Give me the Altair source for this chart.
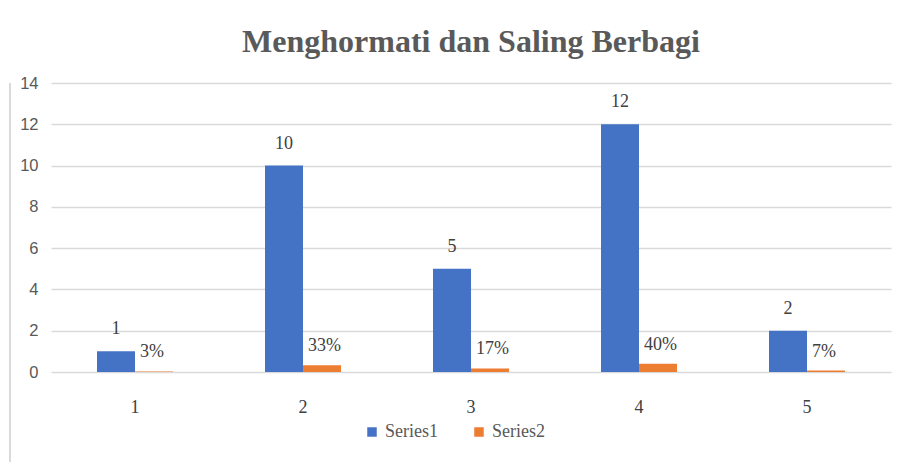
import altair as alt
import pandas as pd

categories = ["1", "2", "3", "4", "5"]
series1 = [1, 10, 5, 12, 2]
series2 = [0.03, 0.33, 0.17, 0.40, 0.07]
series2_labels = ["3%", "33%", "17%", "40%", "7%"]
series_names = ["Series1", "Series2"]

rows = []
for c, v, in zip(categories, series1):
    rows.append({"cat": c, "series": "Series1", "value": v, "label": str(v)})
for c, v, l in zip(categories, series2, series2_labels):
    rows.append({"cat": c, "series": "Series2", "value": v, "label": l})
df = pd.DataFrame(rows)

SERIF = "Liberation Serif"
SANS = "Liberation Sans"

x = alt.X("cat:N", sort=categories, title=None,
          scale=alt.Scale(paddingInner=0, paddingOuter=0),
          axis=alt.Axis(labelAngle=0, labelFont=SERIF, labelFontSize=18,
                        labelColor="#404040", domain=False, ticks=False,
                        labelPadding=26, grid=False))
xo = alt.XOffset("series:N", sort=series_names,
                 scale=alt.Scale(paddingInner=0, paddingOuter=0, range=[46, 122]))
y = alt.Y("value:Q", title=None,
          scale=alt.Scale(domain=[0, 14], nice=False),
          axis=alt.Axis(values=[0, 2, 4, 6, 8, 10, 12, 14], labelFont=SANS,
                        labelFontSize=16.5, labelColor="#595959", domain=False,
                        ticks=False, labelPadding=13, gridColor="#d9d9d9",
                        gridWidth=1.3))

base = alt.Chart(df)

bars = base.mark_bar().encode(
    x=x, xOffset=xo, y=y,
    color=alt.Color("series:N", sort=series_names,
                    scale=alt.Scale(domain=series_names, range=["#4472C4", "#ED7D31"]),
                    legend=alt.Legend(title=None, orient="none", direction="horizontal",
                                      legendX=312, legendY=340, symbolType="square",
                                      symbolSize=90, symbolStrokeWidth=0,
                                      labelFont=SERIF, labelFontSize=18,
                                      labelColor="#595959", columnPadding=32,
                                      symbolOffset=0, labelOffset=4)),
)

t1 = base.transform_filter(alt.datum.series == "Series1").mark_text(
    font=SERIF, fontSize=18, color="#404040", baseline="alphabetic", dy=-17
).encode(x=x, xOffset=xo, y=y, text="label:N")

t2 = base.transform_filter(alt.datum.series == "Series2").mark_text(
    font=SERIF, fontSize=18, color="#404040", baseline="alphabetic", align="left",
    dx=-14, dy=-14
).encode(x=x, xOffset=xo, y=y, text="label:N")

border = alt.Chart(df).mark_rule(color="#d9d9d9", strokeWidth=1).encode(
    x=alt.value(-41), y=alt.value(0), y2=alt.value(379)
)

chart = alt.layer(bars, t1, t2, border).properties(
    width=840, height=289,
    title=alt.TitleParams("Menghormati dan Saling Berbagi", font=SERIF, fontSize=32,
                          fontWeight="bold", color="#595959", anchor="middle",
                          offset=16),
    autosize=alt.AutoSizeParams(type="none"),
    padding={"left": 51, "top": 83, "right": 19, "bottom": 90},
).configure_view(stroke=None)

chart.save("out.html", embed_options={"renderer": "svg", "actions": False})
